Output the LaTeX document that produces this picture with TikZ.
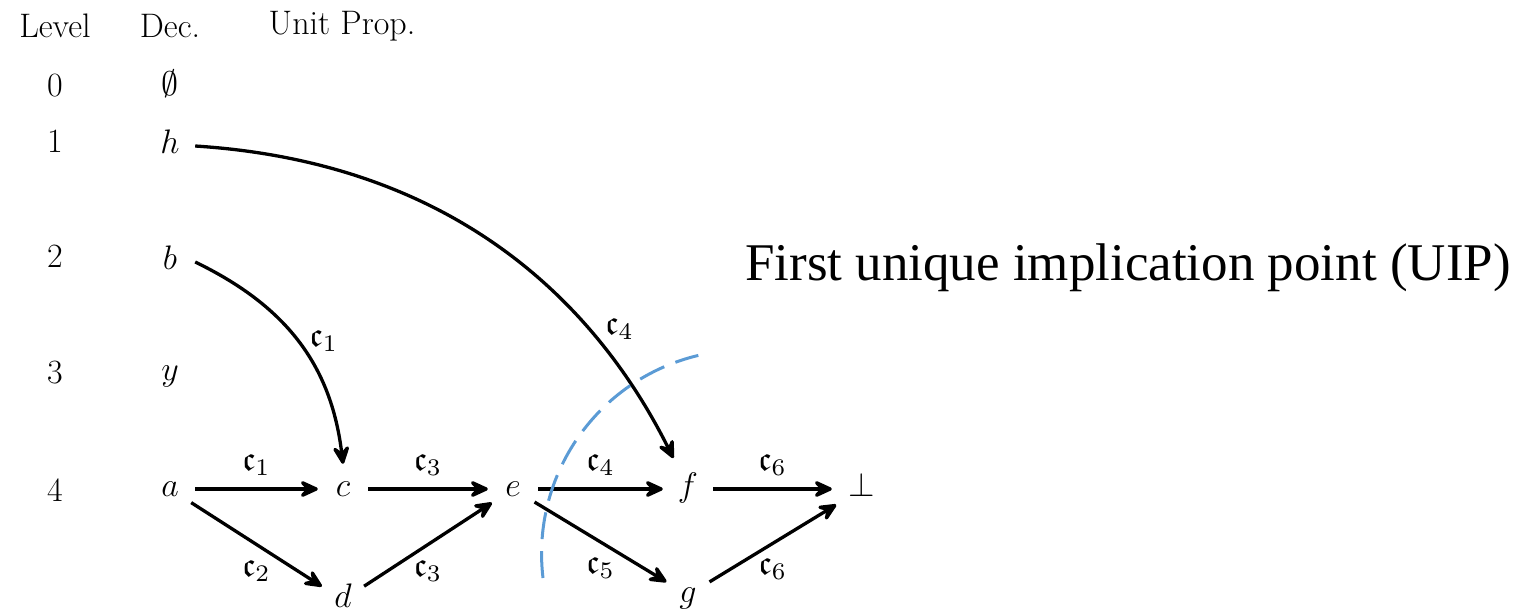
\RequirePackage{fix-cm}
\documentclass[tikz,border=0pt]{standalone}
\usepackage{amssymb}
\usepackage{graphicx}
\usepackage{fontspec}
\newfontfamily\uipfont{Liberation Serif}
\usetikzlibrary{arrows.meta}
\definecolor{uipblue}{RGB}{91,155,213}
\newcommand\bigf{\fontsize{34}{40}\selectfont}
\newcommand\cl[1]{\scalebox{3.4}{\normalsize$\mathfrak{c}_{#1}$}}
\begin{document}
\begin{tikzpicture}[x=1pt,y=-1pt,
  lvl/.style={font=\bigf, anchor=base, inner sep=0pt},
  v/.style={circle, minimum size=50pt, inner sep=0pt, text height=14.5pt, text depth=0pt, font=\bigf},
  lab/.style={font=\bigf, inner sep=0pt},
  ar/.style={-{Stealth[length=24pt, width=22pt, inset=10pt, round]}, line width=3.3pt},
  uipline/.style={draw=uipblue, line width=3pt, dash pattern=on 27pt off 12pt}]
\useasboundingbox (0,0) rectangle (1517,612);
% header
\node[lvl] (hl) at (55,38) {Level};
\node[lvl] (hd) at (170,38) {Dec.};
\node[lvl] (hu) at (342,35) {Unit Prop.};
% levels
\node[lvl] (l0) at (55,97) {0};
\node[lvl] (l1) at (55,153) {1};
\node[lvl] (l2) at (55,268) {2};
\node[lvl] (l3) at (55,383) {3};
\node[lvl] (l4) at (55,501) {4};
% decisions
\node[lvl] (emp) at (170,96) {$\emptyset$};
\node[v] (h) at (170,146) {$h$};
\node[v] (b) at (170,262) {$b$};
\node[lvl] (y) at (170,380) {$y$};
% implication graph
\node[v] (a) at (170,489) {$a$};
\node[v] (c) at (343,489) {$c$};
\node[v] (e) at (513,489) {$e$};
\node[v] (f) at (688,489) {$f$};
\node[v, minimum size=60pt] (bot) at (862,489) {$\bot$};
\node[v] (d) at (343,600) {$d$};
\node[v] (g) at (688,595) {$g$};
\draw[ar] (a) -- node[lab, yshift=24pt]{\cl1} (c);
\draw[ar] (c) -- node[lab, yshift=24pt]{\cl3} (e);
\draw[ar] (e) -- node[lab, yshift=24pt]{\cl4} (f);
\draw[ar] (f) -- node[lab, yshift=24pt]{\cl6} (bot);
\draw[ar] (a) -- node[lab, yshift=-26pt]{\cl2} (d);
\draw[ar] (d) -- node[lab, yshift=-26pt]{\cl3} (e);
\draw[ar] (e) -- node[lab, yshift=-26pt]{\cl5} (g);
\draw[ar] (g) -- node[lab, yshift=-26pt]{\cl6} (bot);
\draw[ar] (b.east) .. controls (284,305) and (331,363) .. node[lab, pos=0.5, xshift=26pt]{\cl1} (c.north);
\draw[ar, shorten >=9pt] (h.east) .. controls (445,162) and (591,293) .. node[lab, pos=0.75, xshift=19pt, yshift=16pt]{\cl4} (f.115);
% UIP cut
\draw[uipline] (543,578) arc[start angle=173.2, end angle=256.6, radius=204];
\node[font=\uipfont\fontsize{53}{60}\selectfont, anchor=base west, inner sep=0pt] (uip) at (745,280) {First unique implication point (UIP)};
\end{tikzpicture}
\end{document}
